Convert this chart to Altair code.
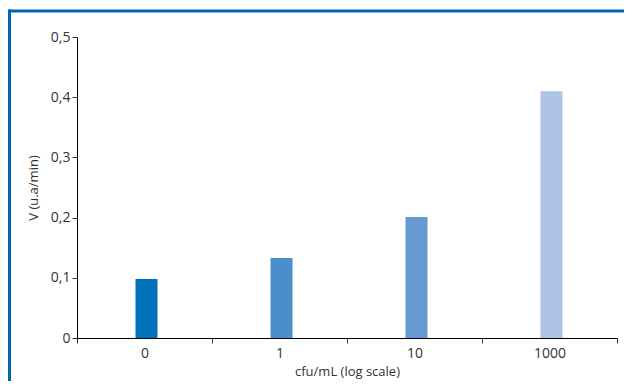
import altair as alt
import pandas as pd

categories = ["0", "1", "10", "1000"]
values = [0.098, 0.133, 0.201, 0.410]
colors = ["#0071bb", "#4a8ecc", "#6699d1", "#aec4e5"]

df = pd.DataFrame({"cfu": categories, "v": values, "color": colors})
frame_df = pd.DataFrame({"k": [0]})

FONT = "Open Sans"

bars = alt.Chart(df).mark_bar(size=22, xOffset=2).encode(
    x=alt.X("cfu:N", sort=categories,
            scale=alt.Scale(paddingInner=0, paddingOuter=0),
            axis=alt.Axis(title="cfu/mL (log scale)", labelAngle=0, tickBand="extent",
                          domainColor="#000", tickColor="#333", tickSize=5,
                          labelFontSize=14, labelColor="#333", labelPadding=3,
                          titleFontSize=13, titleFontWeight="normal", titleColor="#333",
                          titlePadding=5, labelFont=FONT, titleFont=FONT)),
    y=alt.Y("v:Q", scale=alt.Scale(domain=[0, 0.5], nice=False),
            axis=alt.Axis(title="V (u.a/min)", values=[0, 0.1, 0.2, 0.3, 0.4, 0.5], grid=False,
                          labelExpr="datum.value == 0 ? '0' : replace(format(datum.value, '.1f'), '.', ',')",
                          domainColor="#000", tickColor="#333", tickSize=5,
                          labelFontSize=14, labelColor="#333", labelPadding=2,
                          titleFontSize=13, titleFontWeight="normal", titleColor="#333",
                          titlePadding=10, labelFont=FONT, titleFont=FONT)),
    color=alt.Color("color:N", scale=None),
)

left_line = alt.Chart(frame_df).mark_rule(color="#0066b3", strokeWidth=3).encode(
    x=alt.value(-67.5), y=alt.value(-27.5), y2=alt.value(360)
)
top_line = alt.Chart(frame_df).mark_rule(color="#0066b3", strokeWidth=3).encode(
    y=alt.value(-26), x=alt.value(-69), x2=alt.value(560)
)

chart = alt.layer(bars, left_line, top_line).properties(
    width=540, height=301,
    autosize=alt.AutoSizeParams(type="none"),
    padding={"left": 69, "top": 29, "right": 7, "bottom": 43},
).configure_view(stroke=None)

chart.save("out.html", embed_options={"renderer": "svg", "actions": False})
